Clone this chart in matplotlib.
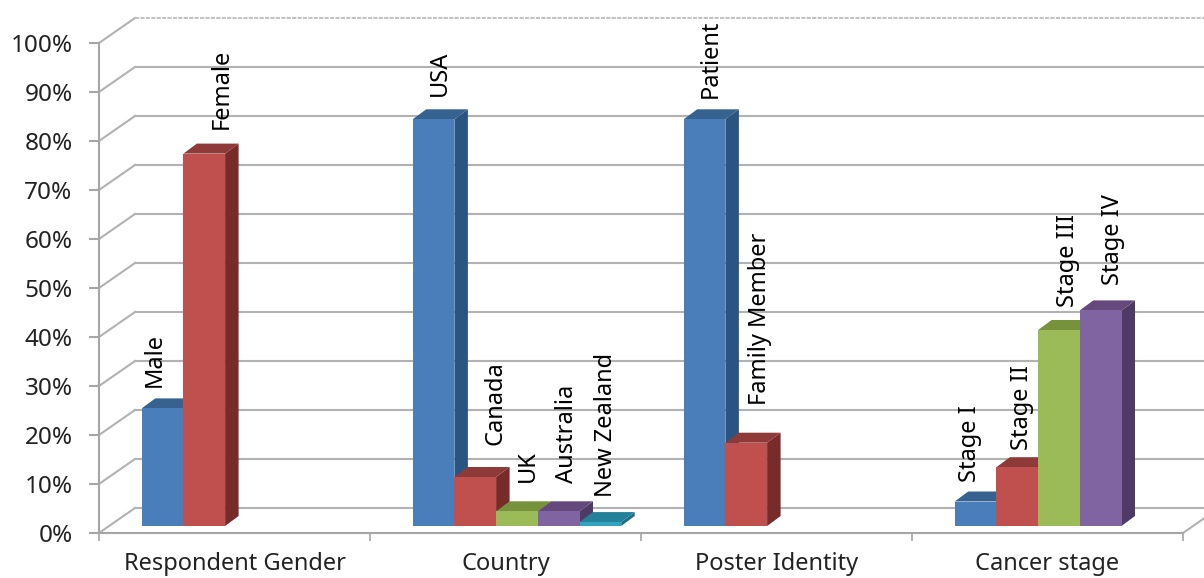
import matplotlib
matplotlib.use('Agg')
import matplotlib.pyplot as plt
from matplotlib.patches import Polygon

plt.rcParams['font.family'] = ['Noto Sans', 'DejaVu Sans']

groups = ['Respondent Gender', 'Country', 'Poster Identity', 'Cancer stage']
gender_names = ['Male', 'Female']
gender_values = [24, 76]
country_names = ['USA', 'Canada', 'UK', 'Australia', 'New Zealand']
country_values = [83, 10, 3, 3, 0.8]
poster_names = ['Patient', 'Family Member']
poster_values = [83, 17]
stage_names = ['Stage I', 'Stage II', 'Stage III', 'Stage IV']
stage_values = [5, 12, 40, 44]

names = [gender_names, country_names, poster_names, stage_names]
values = [gender_values, country_values, poster_values, stage_values]

# label nudges in pixels from the bar's front top centre, placed by hand in the original
nudges = [
    [(-8, 21), (18, 25)],
    [(6, 23), (20, 32), (11, 29), (8, 28), (6, 25)],
    [(6, 21), (14, 38)],
    [(-6, 19), (5, 17), (9, 23), (12, 25)],
]

# front, top, side
colors = [
    ('#4A7EBB', '#35628F', '#2A5580'),
    ('#C0504D', '#8E3A38', '#772C2A'),
    ('#9BBB59', '#76923C', '#62792F'),
    ('#8064A2', '#65497C', '#4F3A66'),
    ('#31A5C0', '#23819A', '#1D7085'),
]
grid_color = '#B2B2B2'

W, H = 1204, 578
px_x = 271.0  # pixels per category
px_y = 4.9    # pixels per percent

wall_dx, wall_dy = 36 / px_x, 25 / px_y
bar_w = 41.7 / px_x
bar_start = 42.7 / px_x
base = 7 / px_y
depth_dx, depth_dy = 13.5 / px_x, 10 / px_y

fig = plt.figure(figsize=(W / 100, H / 100), dpi=100)
ax = fig.add_axes([99 / W, (H - 533) / H, 1084 / W, 490 / H])
ax.set_xlim(0, 4)
ax.set_ylim(0, 100)
ax.patch.set_visible(False)

# walls
for pct in range(0, 101, 10):
    top = pct == 100
    ax.plot([0, wall_dx], [pct, pct + wall_dy], color=grid_color, lw=1.5, clip_on=False, zorder=1)
    ax.plot([wall_dx, 4 + wall_dx], [pct + wall_dy, pct + wall_dy],
            color='#C4C4C4' if top else grid_color, lw=1.5,
            ls=(0, (2, 0.6)) if top else '-', clip_on=False, zorder=1)
ax.plot([4, 4 + wall_dx], [0, wall_dy], color=grid_color, lw=1.5, clip_on=False, zorder=1)

# bars
z = 3
for g in range(len(groups)):
    for i, v in enumerate(values[g]):
        x0 = g + bar_start + i * bar_w
        x1 = x0 + bar_w
        y0 = base
        y1 = base + v
        front, top, side = colors[i]
        ax.add_patch(Polygon([(x1, y0), (x1 + depth_dx, y0 + depth_dy), (x1 + depth_dx, y1 + depth_dy), (x1, y1)],
                             fc=side, ec='none', clip_on=False, zorder=z))
        ax.add_patch(Polygon([(x0, y1), (x0 + depth_dx, y1 + depth_dy), (x1 + depth_dx, y1 + depth_dy), (x1, y1)],
                             fc=top, ec='none', clip_on=False, zorder=z))
        ax.add_patch(Polygon([(x0, y0), (x1, y0), (x1, y1), (x0, y1)],
                             fc=front, ec='none', clip_on=False, zorder=z))
        z += 1
        ax.annotate(names[g][i], xy=((x0 + x1) / 2, y1), xytext=nudges[g][i],
                    textcoords='offset pixels', rotation=90, ha='center', va='bottom',
                    fontsize=17, color='black', annotation_clip=False, zorder=50)

# axes
for s in ['top', 'right']:
    ax.spines[s].set_visible(False)
for s in ['left', 'bottom']:
    ax.spines[s].set_color('#A6A6A6')
    ax.spines[s].set_linewidth(1.5)
    ax.spines[s].set_zorder(2)

ax.set_yticks(range(0, 101, 10))
ax.set_yticklabels(['%d%%' % p for p in range(0, 101, 10)])
ax.set_xticks(range(0, 5))
ax.set_xticklabels([])
ax.set_xticks([g + 0.5 for g in range(len(groups))], minor=True)
ax.set_xticklabels(groups, minor=True)
ax.tick_params(axis='y', length=7, width=1.5, color='#A6A6A6', labelsize=17.5, pad=12, labelcolor='#222222')
ax.tick_params(axis='x', which='major', length=6, width=1.2, color='#A6A6A6')
ax.tick_params(axis='x', which='minor', length=0, labelsize=17, pad=14, labelcolor='#222222')

fig.savefig('out.png', dpi=100)
